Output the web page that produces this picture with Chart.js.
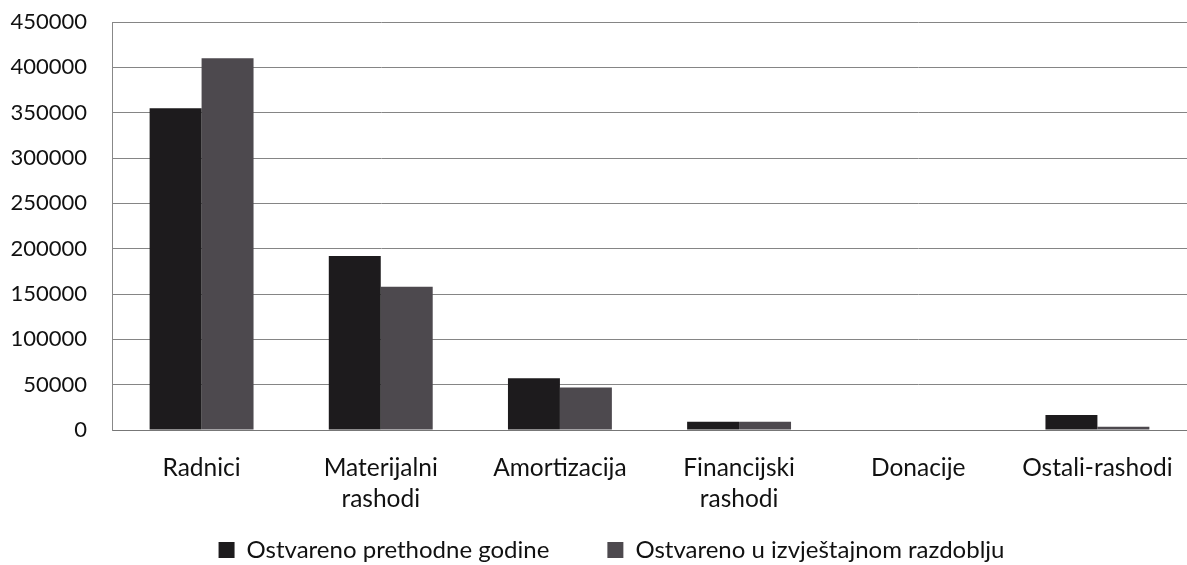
<!DOCTYPE html>
<html>
<head>
<meta charset="utf-8">
<script src="https://cdn.jsdelivr.net/npm/chart.js@4"></script>
<style>
  html, body { margin: 0; padding: 0; background: #fff; }
  #wrap { width: 1187px; height: 565px; }
</style>
</head>
<body>
<div id="wrap"><canvas id="chart" width="1187" height="565"></canvas></div>
<script>
const categories = [['Radnici'], ['Materijalni', 'rashodi'], ['Amortizacija'], ['Financijski', 'rashodi'], ['Donacije'], ['Ostali-rashodi']];
const prevYear = [355000, 192000, 57000, 9000, 0, 16500];
const currentPeriod = [410000, 158000, 47000, 9000, 0, 3500];
const seriesNames = ['Ostvareno prethodne godine', 'Ostvareno u izvještajnom razdoblju'];
const yTicks = [0, 50000, 100000, 150000, 200000, 250000, 300000, 350000, 400000, 450000];

const font = "Lato, 'Open Sans', sans-serif";

// legend: keep the wide gap between items but place the row near the bottom, a bit right of centre
const legendShift = {
    id: 'legendShift',
    afterLayout(chart) {
        const lg = chart.legend;
        lg.top = 480;
        lg.bottom = 565;
        lg.height = 85;
        lg.left += 18;
        lg.right += 18;
    },
};

new Chart(document.getElementById('chart'), {
    type: 'bar',
    data: {
        labels: categories,
        datasets: [
            {
                label: seriesNames[0],
                data: prevYear,
                backgroundColor: '#1d1b1d',
                borderWidth: 0,
                categoryPercentage: 0.58,
                barPercentage: 1.0,
            },
            {
                label: seriesNames[1],
                data: currentPeriod,
                backgroundColor: '#4d494e',
                borderWidth: 0,
                categoryPercentage: 0.58,
                barPercentage: 1.0,
            },
        ],
    },
    plugins: [legendShift],
    options: {
        responsive: false,
        animation: false,
        layout: { padding: { top: 22, right: 0, bottom: 0, left: 0 } },
        plugins: {
            legend: {
                position: 'bottom',
                maxHeight: 51,
                labels: {
                    color: '#111',
                    font: { family: font, size: 24 },
                    boxWidth: 16,
                    boxHeight: 16,
                    padding: 58,
                },
            },
            tooltip: { enabled: false },
        },
        scales: {
            x: {
                grid: { display: false },
                border: { color: '#777', width: 1 },
                afterFit: scale => {
                    scale.height = 84;
                    scale.paddingLeft = 0;
                    scale.paddingRight = 0;
                },
                ticks: {
                    color: '#111',
                    font: { family: font, size: 24.5, lineHeight: 1.25 },
                    padding: 15,
                    maxRotation: 0,
                },
            },
            y: {
                min: 0,
                max: 450000,
                afterBuildTicks: axis => {
                    axis.ticks = yTicks.map(v => ({ value: v }));
                },
                afterFit: scale => {
                    scale.width = 112;
                    scale.paddingTop = 0;
                    scale.paddingBottom = 0;
                },
                grid: { color: '#858585', lineWidth: 1, drawTicks: false },
                border: { color: '#888', width: 1 },
                ticks: {
                    color: '#111',
                    font: { family: font, size: 22 },
                    padding: 25,
                    callback: value => String(value),
                },
            },
        },
    },
});
</script>
</body>
</html>
